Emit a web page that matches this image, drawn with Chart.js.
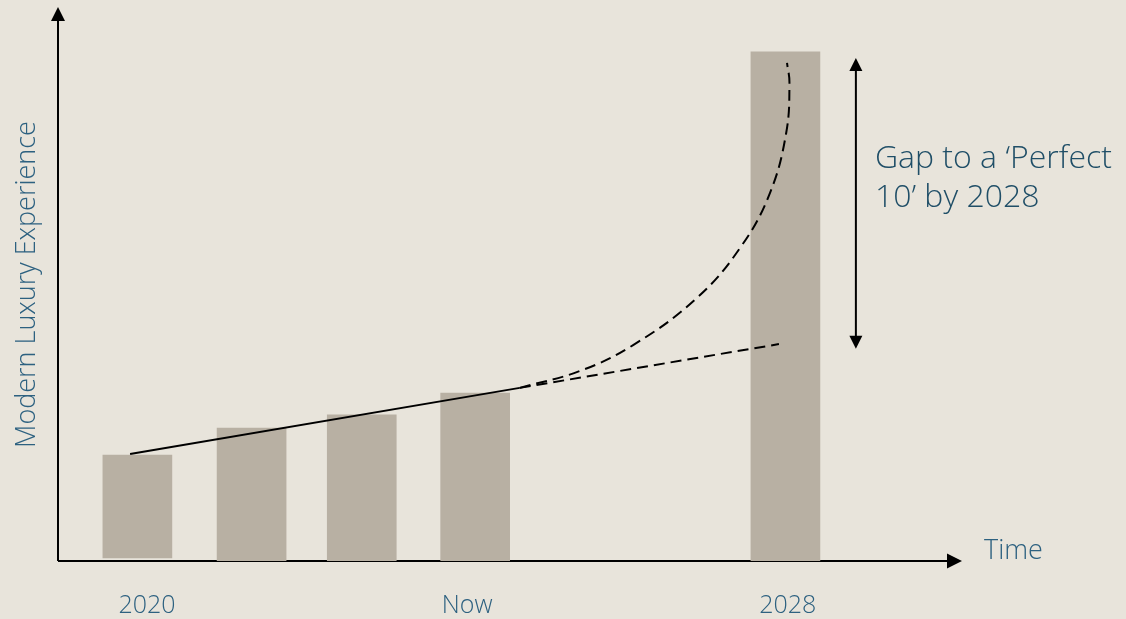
<!DOCTYPE html>
<html>
<head>
<meta charset="utf-8">
<script src="https://cdn.jsdelivr.net/npm/chart.js@4/dist/chart.umd.min.js"></script>
<style>
  html, body { margin: 0; padding: 0; background: #e8e4db; }
  #wrap { width: 1126px; height: 619px; position: relative; }
</style>
</head>
<body>
<div id="wrap"><canvas id="gapChart"></canvas></div>
<script>
// ── Data ─────────────────────────────────────────────────────
const barYears  = [2020, 2021.41, 2022.77, 2024.17, 2028];
const barValues = [2.08, 2.61, 2.87, 3.30, 10];
const barBase   = [0.06, 0, 0, 0, 0];

const tickYears  = [2020.12, 2024.07, 2028.03];
const tickLabels = ['2020', 'Now', '2028'];

// current trajectory: solid up to today, dashed projection after
const trendYears  = [2019.91, 2024.72];
const trendValues = [2.10, 3.40];
const projYears   = [2024.72, 2027.92];
const projValues  = [3.40, 4.26];

// accelerated curve towards the 'Perfect 10'
const curveYears  = [2024.72, 2025.46, 2026.12, 2026.91, 2027.45, 2027.81, 2028.01, 2028.05, 2028.02];
const curveValues = [3.40, 3.73, 4.24, 5.17, 6.17, 7.23, 8.41, 9.39, 9.78];

// gap marker (double arrow)
const gapYear   = 2028.87;
const gapRange  = [4.17, 9.88];
const gapText   = ['Gap to a \u2018Perfect', '10\u2019 by 2028'];

const X_MIN = 2019.02, X_MAX = 2030.18;
const Y_MAX = 10.86;

const INK      = '#000000';
const LABEL    = '#2d6180';
const NOTE     = '#1f4e67';
const BAR_FILL = '#b8b0a3';
const FONT     = '"Open Sans", Lato, sans-serif';

const pts = (xs, ys) => xs.map((x, i) => ({ x, y: ys[i] }));

// ── Helpers ──────────────────────────────────────────────────
function arrowHead(ctx, x, y, dir, size) {
  // dir: 'up' | 'down' | 'right'
  const h = size, w = size / 2;
  ctx.beginPath();
  if (dir === 'up')    { ctx.moveTo(x, y); ctx.lineTo(x - w, y + h); ctx.lineTo(x + w, y + h); }
  if (dir === 'down')  { ctx.moveTo(x, y); ctx.lineTo(x - w, y - h); ctx.lineTo(x + w, y - h); }
  if (dir === 'right') { ctx.moveTo(x, y); ctx.lineTo(x - h, y - w); ctx.lineTo(x - h, y + w); }
  ctx.closePath();
  ctx.fill();
}

// axes with arrow tips
const arrowAxes = {
  id: 'arrowAxes',
  beforeDatasetsDraw(chart) {
    const { ctx, chartArea: a } = chart;
    ctx.save();
    ctx.strokeStyle = INK;
    ctx.fillStyle = INK;
    ctx.lineWidth = 2;
    ctx.beginPath();
    ctx.moveTo(a.left, a.bottom);
    ctx.lineTo(a.left, a.top + 10);
    ctx.moveTo(a.left, a.bottom);
    ctx.lineTo(a.right - 10, a.bottom);
    ctx.stroke();
    arrowHead(ctx, a.left, a.top - 1, 'up', 14);
    arrowHead(ctx, a.right, a.bottom, 'right', 15);
    ctx.restore();
  }
};

// double arrow plus the notes around the plot
const notes = {
  id: 'notes',
  afterDatasetsDraw(chart) {
    const { ctx, chartArea: a, scales: { x, y } } = chart;
    const gx = x.getPixelForValue(gapYear);
    const gTop = y.getPixelForValue(gapRange[1]);
    const gBot = y.getPixelForValue(gapRange[0]);
    ctx.save();
    ctx.strokeStyle = INK;
    ctx.fillStyle = INK;
    ctx.lineWidth = 2;
    ctx.beginPath();
    ctx.moveTo(gx, gTop + 10);
    ctx.lineTo(gx, gBot - 10);
    ctx.stroke();
    arrowHead(ctx, gx, gTop, 'up', 13);
    arrowHead(ctx, gx, gBot, 'down', 13);

    ctx.fillStyle = NOTE;
    ctx.font = '300 32px ' + FONT;
    ctx.textAlign = 'left';
    ctx.textBaseline = 'alphabetic';
    ctx.fillText(gapText[0], gx + 19, gTop + 110);
    ctx.fillText(gapText[1], gx + 19, gTop + 149);

    ctx.fillStyle = LABEL;
    ctx.font = '300 27px ' + FONT;
    ctx.fillText('Time', a.right + 22, a.bottom - 2);
    ctx.restore();
  }
};

// ── Chart ────────────────────────────────────────────────────
new Chart(document.getElementById('gapChart'), {
  type: 'bar',
  data: {
    datasets: [
      {
        type: 'line',
        data: pts(trendYears, trendValues),
        borderColor: INK,
        borderWidth: 2,
        pointRadius: 0,
        order: 0
      },
      {
        type: 'line',
        data: pts(projYears, projValues),
        borderColor: INK,
        borderWidth: 2,
        borderDash: [11, 6],
        pointRadius: 0,
        order: 0
      },
      {
        type: 'line',
        data: pts(curveYears, curveValues),
        borderColor: INK,
        borderWidth: 2,
        borderDash: [11, 6],
        pointRadius: 0,
        tension: 0.4,
        order: 0
      },
      {
        data: barYears.map((yr, i) => ({ x: yr, y: [barBase[i], barValues[i]] })),
        backgroundColor: BAR_FILL,
        borderWidth: 0,
        barThickness: 69,
        order: 1
      }
    ]
  },
  options: {
    responsive: true,
    maintainAspectRatio: false,
    animation: false,
    devicePixelRatio: 1,
    layout: { padding: { top: 8, right: 164, left: 0, bottom: 0 } },
    plugins: { legend: { display: false }, tooltip: { enabled: false } },
    scales: {
      x: {
        type: 'linear',
        min: X_MIN,
        max: X_MAX,
        offset: false,
        grid: { display: false, drawTicks: false, offset: false },
        border: { display: false },
        afterBuildTicks: (s) => { s.ticks = tickYears.map(v => ({ value: v })); },
        afterFit: (s) => { s.height = 58; },
        ticks: {
          padding: 30,
          color: LABEL,
          font: { family: FONT, size: 25, weight: '300' },
          autoSkip: false,
          maxRotation: 0,
          callback: (v) => tickLabels[tickYears.indexOf(v)]
        }
      },
      y: {
        min: 0,
        max: Y_MAX,
        grid: { display: false, drawTicks: false },
        border: { display: false },
        ticks: { display: false },
        afterFit: (s) => { s.width = 58; },
        title: {
          display: true,
          text: 'Modern Luxury Experience',
          color: LABEL,
          font: { family: FONT, size: 27, weight: '300' },
          padding: { top: 11, bottom: 0 }
        }
      }
    }
  },
  plugins: [arrowAxes, notes]
});
</script>
</body>
</html>
